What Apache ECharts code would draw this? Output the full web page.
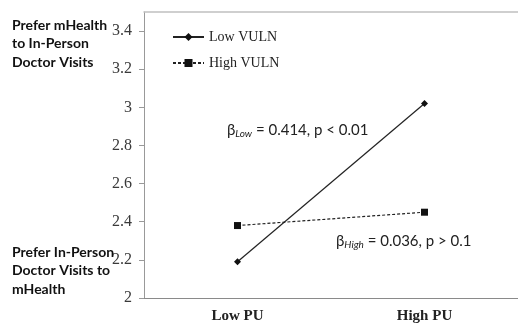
<!DOCTYPE html>
<html>
<head>
<meta charset="utf-8">
<script src="https://cdn.jsdelivr.net/npm/echarts@6/dist/echarts.min.js"></script>
<style>
  html, body { margin: 0; padding: 0; background: #fff; }
  #chart { width: 518px; height: 324px; }
</style>
</head>
<body>
<div id="chart"></div>
<script>
//*************** data ***************
var categories = ['Low PU', 'High PU'];
var low_vuln = [2.19, 3.02];
var high_vuln = [2.38, 2.45];
var y_ticks = [2, 2.2, 2.4, 2.6, 2.8, 3, 3.2, 3.4];

//*************** chart ***************
var chart_dom = document.getElementById('chart');
var chart = echarts.init(chart_dom, null, {renderer: 'canvas'});

var serif = '"Liberation Serif", "Times New Roman", serif';
var sans = 'Lato, "Noto Sans", sans-serif';

var left_text = {
    fontFamily: sans,
    fontWeight: 'bold',
    fontSize: 14,
    lineHeight: 18.5,
    fill: '#111'
};

chart.setOption({
    animation: false,
    backgroundColor: '#fff',
    grid: {left: 144, top: 12, width: 380, height: 286},
    legend: {
        orient: 'vertical',
        left: 167,
        top: 25,
        itemWidth: 31,
        itemHeight: 10,
        itemGap: 12,
        textStyle: {fontFamily: serif, fontSize: 14, color: '#222'},
        data: ['Low VULN', 'High VULN']
    },
    xAxis: [
        {
            type: 'category',
            data: categories,
            boundaryGap: true,
            axisLine: {lineStyle: {color: '#8a8a8a', width: 1.2}},
            axisTick: {length: 3, lineStyle: {color: '#666'}},
            axisLabel: {
                fontFamily: serif,
                fontWeight: 'bold',
                fontSize: 15,
                color: '#222',
                margin: 11
            }
        },
        {
            type: 'category',
            position: 'top',
            data: categories,
            axisLine: {lineStyle: {color: '#c0c0c0', width: 1.5}},
            axisTick: {show: false},
            axisLabel: {show: false}
        }
    ],
    yAxis: {
        type: 'value',
        min: 2,
        max: 3.5,
        interval: 0.1,
        axisLine: {show: true, lineStyle: {color: '#999'}},
        axisTick: {show: true, length: 5, customValues: y_ticks, lineStyle: {color: '#999'}},
        axisLabel: {
            customValues: y_ticks,
            fontFamily: serif,
            fontSize: 16,
            color: '#3a3a3a',
            margin: 12
        },
        splitLine: {show: false}
    },
    series: [
        {
            name: 'Low VULN',
            type: 'line',
            data: low_vuln,
            symbol: 'diamond',
            symbolSize: 7,
            itemStyle: {color: '#111'},
            lineStyle: {color: '#222', width: 1.2, type: 'solid'}
        },
        {
            name: 'High VULN',
            type: 'line',
            data: high_vuln,
            symbol: 'rect',
            symbolSize: 7,
            itemStyle: {color: '#111'},
            lineStyle: {color: '#222', width: 1.2, type: [3, 2]}
        }
    ],
    graphic: [
        {
            type: 'text', left: 12, top: 16,
            style: Object.assign({text: 'Prefer mHealth\nto In-Person\nDoctor Visits'}, left_text)
        },
        {
            type: 'text', left: 12, top: 243,
            style: Object.assign({text: 'Prefer In-Person\nDoctor Visits to\nmHealth'}, left_text)
        },
        {
            type: 'text', left: 227, top: 123,
            style: {
                text: '{b|β}{s|Low}{b| = 0.414, p < 0.01}',
                rich: {
                    b: {fontFamily: sans, fontSize: 15, fill: '#222'},
                    s: {fontFamily: sans, fontSize: 10, fontStyle: 'italic', fill: '#222', padding: [6, 0, 0, 0]}
                }
            }
        },
        {
            type: 'text', left: 336, top: 234,
            style: {
                text: '{b|β}{s|High}{b| = 0.036, p > 0.1}',
                rich: {
                    b: {fontFamily: sans, fontSize: 15, fill: '#222'},
                    s: {fontFamily: sans, fontSize: 10, fontStyle: 'italic', fill: '#222', padding: [6, 0, 0, 0]}
                }
            }
        }
    ]
});
</script>
</body>
</html>
